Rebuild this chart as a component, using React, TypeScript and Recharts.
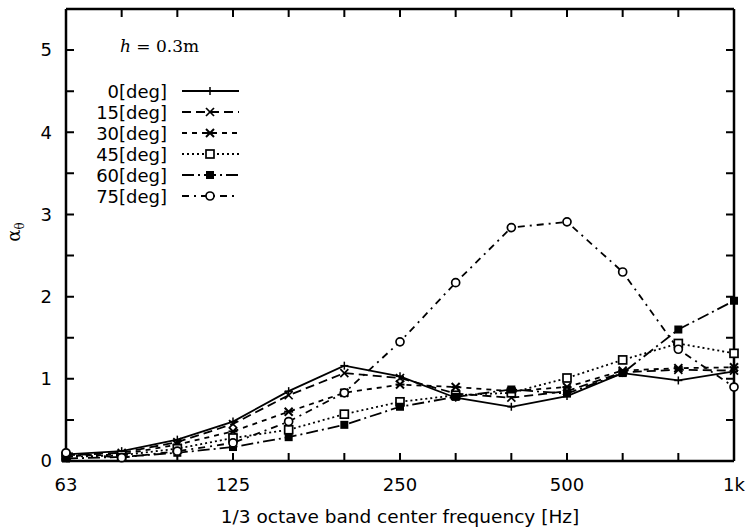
import { LineChart, Line, XAxis, YAxis, Legend, ReferenceLine } from "recharts";

const bands = ["63", "80", "100", "125", "160", "200", "250", "315", "400", "500", "630", "800", "1k"];
const majorBands = ["63", "125", "250", "500", "1k"];
const yTicks = [0, 0.5, 1, 1.5, 2, 2.5, 3, 3.5, 4, 4.5, 5];

const deg0 = [0.08, 0.12, 0.26, 0.48, 0.85, 1.16, 1.03, 0.77, 0.66, 0.79, 1.07, 0.98, 1.09];
const deg15 = [0.07, 0.1, 0.23, 0.45, 0.8, 1.07, 1.01, 0.82, 0.77, 0.85, 1.08, 1.11, 1.1];
const deg30 = [0.06, 0.08, 0.2, 0.36, 0.6, 0.83, 0.93, 0.9, 0.85, 0.9, 1.1, 1.13, 1.14];
const deg45 = [0.05, 0.07, 0.15, 0.28, 0.38, 0.57, 0.72, 0.8, 0.83, 1.01, 1.23, 1.43, 1.31];
const deg60 = [0.03, 0.05, 0.1, 0.17, 0.29, 0.44, 0.66, 0.78, 0.87, 0.82, 1.07, 1.6, 1.95];
const deg75 = [0.1, 0.04, 0.12, 0.22, 0.48, 0.83, 1.45, 2.17, 2.84, 2.91, 2.3, 1.36, 0.9];

const seriesNames = ["0[deg]", "15[deg]", "30[deg]", "45[deg]", "60[deg]", "75[deg]"];
const seriesValues = [deg0, deg15, deg30, deg45, deg60, deg75];

// line look per series
const styles = [
  { key: "d0", dash: undefined, marker: "plus" },
  { key: "d15", dash: "9 5", marker: "cross" },
  { key: "d30", dash: "5 5", marker: "star" },
  { key: "d45", dash: "2 3", marker: "openSquare" },
  { key: "d60", dash: "12 4 2 4", marker: "square" },
  { key: "d75", dash: "7 5 2 5", marker: "circle" },
];

const data = bands.map((band, i) => {
  const row: Record<string, string | number> = { band };
  styles.forEach((s, k) => {
    row[s.key] = seriesValues[k][i];
  });
  return row;
});

const FONT = "DejaVu Sans";
const TICK_LEN = 8;

function Marker({ type, cx, cy }: { type: string; cx: number; cy: number }) {
  if (cx == null || cy == null) return null;
  switch (type) {
    case "plus":
      return (
        <g stroke="#000" strokeWidth={1.5}>
          <line x1={cx - 4} y1={cy} x2={cx + 4} y2={cy} />
          <line x1={cx} y1={cy - 4} x2={cx} y2={cy + 4} />
        </g>
      );
    case "cross":
      return (
        <g stroke="#000" strokeWidth={1.7}>
          <line x1={cx - 4} y1={cy - 4} x2={cx + 4} y2={cy + 4} />
          <line x1={cx - 4} y1={cy + 4} x2={cx + 4} y2={cy - 4} />
        </g>
      );
    case "star":
      return (
        <g stroke="#000" strokeWidth={2}>
          <line x1={cx - 4} y1={cy - 4} x2={cx + 4} y2={cy + 4} />
          <line x1={cx - 4} y1={cy + 4} x2={cx + 4} y2={cy - 4} />
          <line x1={cx - 4.5} y1={cy} x2={cx + 4.5} y2={cy} />
        </g>
      );
    case "openSquare":
      return <rect x={cx - 4} y={cy - 4} width={8} height={8} fill="#fff" stroke="#000" strokeWidth={1.7} />;
    case "square":
      return <rect x={cx - 4} y={cy - 4} width={8} height={8} fill="#000" />;
    default:
      return <circle cx={cx} cy={cy} r={4} fill="#fff" stroke="#000" strokeWidth={1.7} />;
  }
}

const rowY = [91, 112, 133, 154, 175, 196];

function renderLegend() {
  return (
    <svg width={260} height={210} style={{ display: "block" }}>
      <text x={120} y={52} fontFamily="DejaVu Serif" fontSize={17} fill="#000">
        <tspan fontStyle="italic">h</tspan> = 0.3m
      </text>
      {seriesNames.map((name, i) => (
        <g key={name}>
          <text x={167} y={rowY[i] + 6.5} textAnchor="end" fontFamily={FONT} fontSize={18} fill="#000">
            {name}
          </text>
          <line x1={182} y1={rowY[i]} x2={239} y2={rowY[i]} stroke="#000" strokeWidth={1.8} strokeDasharray={styles[i].dash} />
          <Marker type={styles[i].marker} cx={210} cy={rowY[i]} />
        </g>
      ))}
    </svg>
  );
}

// short inward ticks at both ends of a reference line
function tickShape(p: any) {
  const { x1, y1, x2, y2 } = p;
  const dx = x2 - x1;
  const dy = y2 - y1;
  const len = Math.hypot(dx, dy) || 1;
  const ux = (dx / len) * TICK_LEN;
  const uy = (dy / len) * TICK_LEN;
  return (
    <path
      d={`M${x1},${y1}L${x1 + ux},${y1 + uy}M${x2},${y2}L${x2 - ux},${y2 - uy}`}
      stroke="#000"
      strokeWidth={2}
      fill="none"
    />
  );
}

const BOTTOM_MARGIN = 17;
function BottomTick(props: any) {
  const { x, y, payload } = props;
  const label = majorBands.includes(payload.value) ? payload.value : "";
  return (
    <text x={x} y={y} dy="0.71em" textAnchor="middle" fontFamily={FONT} fontSize={18} fill="#000">
      {label}
    </text>
  );
}

const LEFT_MARGIN = 14;
function LeftTick(props: any) {
  const { x, y, payload } = props;
  const v = payload.value;
  return (
    <text x={x} y={y} dy="0.355em" textAnchor="end" fontFamily={FONT} fontSize={18} fill="#000">
      {Number.isInteger(v) ? String(v) : ""}
    </text>
  );
}

export default function App() {
  return (
    <div style={{ position: "absolute", left: 0, top: 0, background: "#fff" }}>
      <LineChart width={748} height={530} data={data} margin={{ top: 9, right: 14, bottom: 0, left: 0 }}>
        <XAxis
          xAxisId="x"
          dataKey="band"
          height={69}
          interval={0}
          tickSize={0}
          tickMargin={BOTTOM_MARGIN}
          tickLine={false}
          axisLine={{ stroke: "#000", strokeWidth: 2.5 }}
          tick={BottomTick}
          label={{
            value: "1/3 octave band center frequency [Hz]",
            position: "insideBottom",
            offset: 7,
            fill: "#000",
            fontSize: 18.5,
            fontFamily: FONT,
          }}
        />
        <YAxis
          yAxisId="y"
          type="number"
          domain={[0, 5.5]}
          ticks={yTicks}
          interval={0}
          width={66}
          tickSize={0}
          tickMargin={LEFT_MARGIN}
          tickLine={false}
          axisLine={{ stroke: "#000", strokeWidth: 2.5 }}
          tick={LeftTick}
          label={{
            content: () => (
              <text transform="translate(20,232) rotate(-90)" textAnchor="middle" fontFamily="DejaVu Serif" fontSize={18} fill="#000">
                α<tspan fontSize={12} dy={4}>θ</tspan>
              </text>
            ),
          }}
        />
        {/* top and right frame */}
        <ReferenceLine xAxisId="x" yAxisId="y" y={5.5} stroke="#000" strokeWidth={2.5} />
        <ReferenceLine xAxisId="x" yAxisId="y" x="1k" stroke="#000" strokeWidth={2.5} />
        {bands.map((b) => (
          <ReferenceLine key={`xt-${b}`} xAxisId="x" yAxisId="y" x={b} shape={tickShape} />
        ))}
        {yTicks.map((t) => (
          <ReferenceLine key={`yt-${t}`} xAxisId="x" yAxisId="y" y={t} shape={tickShape} />
        ))}
        <Legend
          layout="vertical"
          align="center"
          verticalAlign="middle"
          content={renderLegend}
          wrapperStyle={{ left: 0, top: 0, width: 260, height: 210 }}
        />
        {styles.map((s) => (
          <Line
            key={s.key}
            xAxisId="x"
            yAxisId="y"
            dataKey={s.key}
            type="linear"
            stroke="#000"
            strokeWidth={1.8}
            strokeDasharray={s.dash}
            isAnimationActive={false}
            dot={(p: any) => <Marker key={`${s.key}-${p.index}`} type={s.marker} cx={p.cx} cy={p.cy} />}
            activeDot={false}
          />
        ))}
      </LineChart>
    </div>
  );
}
